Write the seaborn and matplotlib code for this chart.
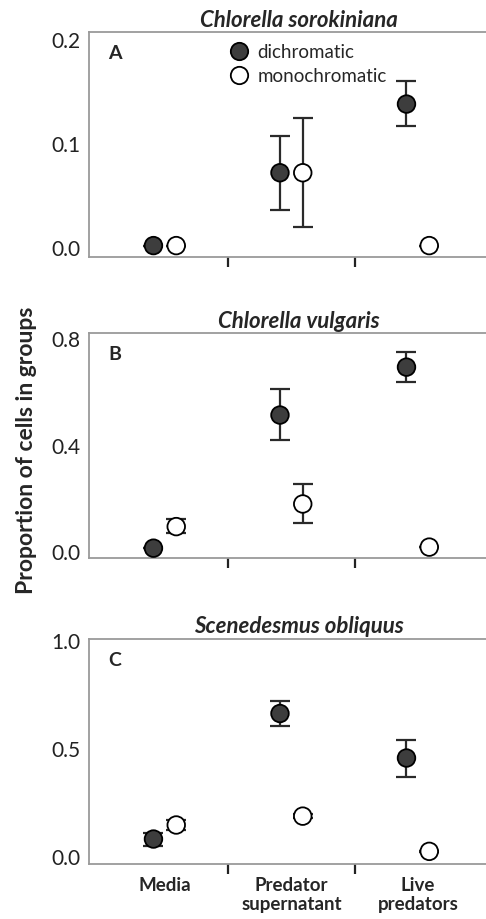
import matplotlib
matplotlib.use('Agg')
import matplotlib.pyplot as plt
import numpy as np
import pandas as pd
import seaborn as sns

# ---- data ----
treatments = ['Media', 'Predator\nsupernatant', 'Live\npredators']
groups = ['dichromatic', 'monochromatic']
species = ['Chlorella sorokiniana', 'Chlorella vulgaris', 'Scenedesmus obliquus']
panel_letters = ['A', 'B', 'C']

# mean, lower, upper per species -> group -> treatment
sor_dich = [0.002, 0.072, 0.138]
sor_dich_lo = [0.002, 0.036, 0.117]
sor_dich_hi = [0.002, 0.107, 0.160]
sor_mono = [0.002, 0.072, 0.002]
sor_mono_lo = [0.002, 0.020, 0.002]
sor_mono_hi = [0.002, 0.125, 0.002]

vul_dich = [0.016, 0.516, 0.696]
vul_dich_lo = [0.016, 0.423, 0.640]
vul_dich_hi = [0.016, 0.613, 0.753]
vul_mono = [0.097, 0.182, 0.020]
vul_mono_lo = [0.072, 0.110, 0.020]
vul_mono_hi = [0.125, 0.256, 0.020]

sce_dich = [0.085, 0.666, 0.460]
sce_dich_lo = [0.053, 0.607, 0.372]
sce_dich_hi = [0.115, 0.725, 0.544]
sce_mono = [0.150, 0.191, 0.028]
sce_mono_lo = [0.125, 0.183, 0.025]
sce_mono_hi = [0.175, 0.199, 0.031]

panels = [
    (sor_dich, sor_dich_lo, sor_dich_hi, sor_mono, sor_mono_lo, sor_mono_hi),
    (vul_dich, vul_dich_lo, vul_dich_hi, vul_mono, vul_mono_lo, vul_mono_hi),
    (sce_dich, sce_dich_lo, sce_dich_hi, sce_mono, sce_mono_lo, sce_mono_hi),
]
yticks = [[0.0, 0.1, 0.2], [0.0, 0.4, 0.8], [0.0, 0.5, 1.0]]
ylims = [(-0.009, 0.207), (-0.022, 0.823), (-0.032, 1.011)]

sns.set_style('white')
plt.rcParams['font.family'] = ['Lato', 'DejaVu Sans']

fig = plt.figure(figsize=(4.86, 9.19), dpi=100)
boxes = [(0.9649, 0.7203), (0.6373, 0.3925), (0.3047, 0.0595)]
offset = 0.09
x = np.arange(3)
palette = {'dichromatic': '#3d3d3d', 'monochromatic': 'white'}

for i, (top, bottom) in enumerate(boxes):
    ax = fig.add_axes([0.183, bottom, 0.86, top - bottom])
    d, dlo, dhi, m, mlo, mhi = panels[i]
    df = pd.DataFrame({
        'x': np.concatenate([x - offset, x + offset]),
        'y': d + m,
        'lo': dlo + mlo,
        'hi': dhi + mhi,
        'group': ['dichromatic'] * 3 + ['monochromatic'] * 3,
    })
    ax.errorbar(df['x'], df['y'],
                yerr=[df['y'] - df['lo'], df['hi'] - df['y']],
                fmt='none', ecolor='#2a2a2a', elinewidth=1.6,
                capsize=7, capthick=1.6, zorder=2)
    sns.scatterplot(data=df, x='x', y='y', hue='group', palette=palette,
                    s=160, edgecolor='black', linewidth=1.3, ax=ax,
                    legend=(i == 0), zorder=3)
    ax.set_xlim(-0.6, -0.6 + 3.2 * 0.86 / 0.833)
    ax.set_ylim(*ylims[i])
    ax.set_yticks(yticks[i])
    ax.set_yticklabels(['%.1f' % v for v in yticks[i]], fontsize=15, color='#222')
    ax.tick_params(axis='y', length=0, pad=6)
    ax.set_xticks([0.5, 1.5], minor=True)
    ax.tick_params(axis='x', which='minor', length=7, width=1.6,
                   color='#222', direction='out', bottom=True)
    if i == 2:
        ax.set_xticks(x)
        ax.set_xticklabels(treatments, fontsize=13.5, fontweight='bold',
                           linespacing=1.15)
        ax.tick_params(axis='x', which='major', length=0, pad=9)
    else:
        ax.set_xticks([])
    ax.set_xlabel('')
    ax.set_ylabel('')
    for side in ['left', 'bottom', 'top']:
        ax.spines[side].set_color('#9a9a9a')
        ax.spines[side].set_linewidth(1.3)
    ax.spines['right'].set_visible(False)
    ax.set_title(species[i], fontsize=16, fontweight='bold', style='italic',
                 pad=4, x=0.503)
    ax.text(0.062, 0.905, panel_letters[i], transform=ax.transAxes,
            fontsize=14, fontweight='bold', va='center', ha='center')
    if i == 0:
        leg = ax.legend(loc='upper left', bbox_to_anchor=(0.287, 1.0),
                        frameon=False, fontsize=13.5, handletextpad=0.0,
                        labelspacing=0.38, borderaxespad=0.2)
        for h in leg.legend_handles:
            h.set_markeredgecolor('black')
            h.set_markersize(12.5)

fig.text(0.055, 0.5103, 'Proportion of cells in groups', rotation=90,
         fontsize=16.5, fontweight='bold', ha='center', va='center')

fig.savefig('out.png', dpi=100)
